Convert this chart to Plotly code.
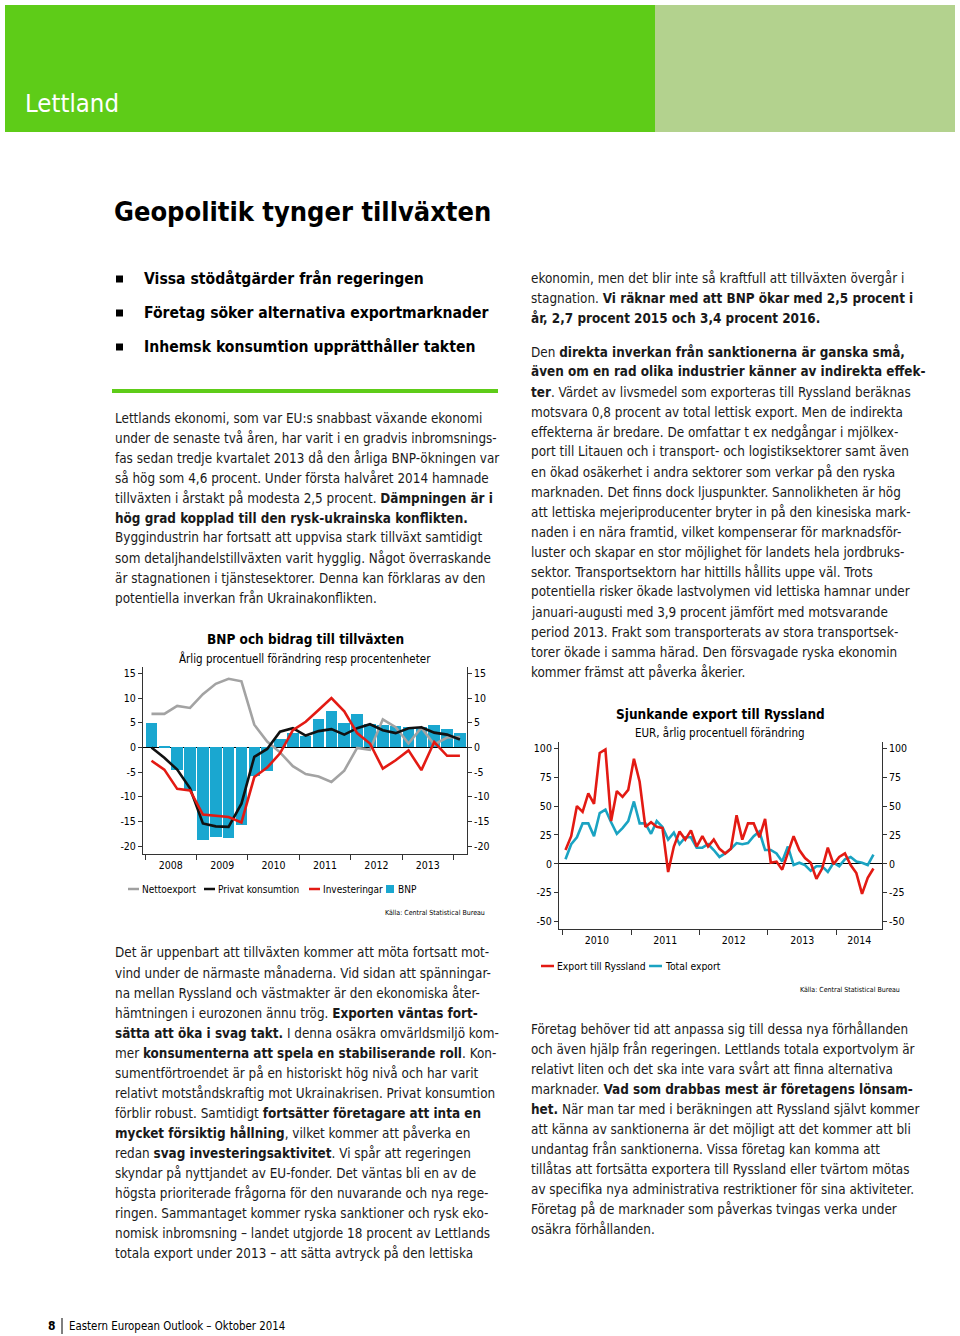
import plotly.graph_objects as go

W, H = 960, 1336
FONT = "Noto Sans Condensed, DejaVu Sans Condensed, sans-serif"
FONT_BODY = FONT
TXT = "#1a1a1a"
GREEN = "#5ecc18"
LIGHT_GREEN = "#b3d28e"

# ---------------- Chart 1 data: BNP och bidrag till tillväxten (quarterly) ----------------
quarters = [f"{y} K{q}" for y in range(2008, 2014) for q in range(1, 5)] + ["2014 K1"]
bnp = [4.9, 0.3, -4.5, -8.9, -18.7, -18.2, -18.4, -15.8, -5.7, -4.7, 1.8, 2.9, 2.3,
       5.7, 7.3, 5.0, 6.8, 4.7, 4.6, 4.4, 4.2, 4.1, 4.5, 3.7, 2.9]
nettoexport = [6.8, 6.8, 8.4, 8.0, 10.8, 12.9, 13.9, 13.4, 4.6, 1.2, -1.0, -3.8, -5.4,
               -5.9, -7.0, -4.7, -0.1, -0.5, 5.7, 4.1, 0.8, 4.0, 0.6, 2.0, 2.1]
privat_konsumtion = [0.0, -2.1, -4.5, -8.3, -15.4, -16.0, -16.1, -11.4, -1.9, -0.3, 3.2,
                     3.9, 2.4, 3.3, 3.7, 2.6, 3.9, 4.7, 3.5, 2.9, 3.9, 4.1, 3.0, 2.6, 1.6]
investeringar = [-2.7, -4.5, -8.4, -8.7, -13.6, -13.9, -14.1, -15.2, -6.0, -4.1, -1.2,
                 3.5, 5.2, 7.6, 10.0, 7.3, 2.9, 0.8, -4.3, -2.6, -0.6, -4.6, 1.1, -1.7, -1.7]
years1 = ["2008", "2009", "2010", "2011", "2012", "2013"]
yticks1 = [-20, -15, -10, -5, 0, 5, 10, 15]

# ---------------- Chart 2 data: Sjunkande export till Ryssland (monthly) ----------------
months = [f"{y}-{m:02d}" for y in range(2010, 2015) for m in range(1, 13)][:55]
export_ryssland = [12, 24, 50, 45, 61, 52, 96, 99, 37, 63, 58, 64, 91, 71, 32, 36, 32, 31,
                   -7, 15, 28, 21, 29, 15, 24, 15, 21, 13, 9, 13, 42, 21, 35, 35, 23, 39,
                   1, 2, -5, 9, 24, 12, 5, 1, -13, -4, 14, -0.3, 6, 9, -1, -8, -26, -12, -4]
total_export = [4, 17, 23, 35, 35, 24, 44, 47, 36, 26, 31, 37, 54, 35, 35, 26, 37, 32,
                21, 27, 17, 23, 23, 14, 14, 17, 12, 6, 9, 13, 18, 17, 18, 24, 28, 12,
                12, 9, 2, 15, -1, 1, -1, -6, -2, -2, -7, 1, -2, 4, 6, 2, 1, -1, 8]
years2 = ["2010", "2011", "2012", "2013", "2014"]
yticks2 = [-50, -25, 0, 25, 50, 75, 100]

# ---------------- Text ----------------
title = "Geopolitik tynger tillväxten"
bullets = ["Vissa stödåtgärder från regeringen",
           "Företag söker alternativa exportmarknader",
           "Inhemsk konsumtion upprätthåller takten"]
left_p1 = [
    "Lettlands ekonomi, som var EU:s snabbast växande ekonomi",
    "under de senaste två åren, har varit i en gradvis inbromsnings-",
    "fas sedan tredje kvartalet 2013 då den årliga BNP-ökningen var",
    "så hög som 4,6 procent. Under första halvåret 2014 hamnade",
    "tillväxten i årstakt på modesta 2,5 procent. <b>Dämpningen är i</b>",
    "<b>hög grad kopplad till den rysk-ukrainska konflikten.</b>",
    "Byggindustrin har fortsatt att uppvisa stark tillväxt samtidigt",
    "som detaljhandelstillväxten varit hygglig. Något överraskande",
    "är stagnationen i tjänstesektorer. Denna kan förklaras av den",
    "potentiella inverkan från Ukrainakonflikten.",
]
left_p2 = [
    "Det är uppenbart att tillväxten kommer att möta fortsatt mot-",
    "vind under de närmaste månaderna. Vid sidan att spänningar-",
    "na mellan Ryssland och västmakter är den ekonomiska åter-",
    "hämtningen i eurozonen ännu trög. <b>Exporten väntas fort-</b>",
    "<b>sätta att öka i svag takt.</b> I denna osäkra omvärldsmiljö kom-",
    "mer <b>konsumenterna att spela en stabiliserande roll</b>. Kon-",
    "sumentförtroendet är på en historiskt hög nivå och har varit",
    "relativt motståndskraftig mot Ukrainakrisen. Privat konsumtion",
    "förblir robust. Samtidigt <b>fortsätter företagare att inta en</b>",
    "<b>mycket försiktig hållning</b>, vilket kommer att påverka en",
    "redan <b>svag investeringsaktivitet</b>. Vi spår att regeringen",
    "skyndar på nyttjandet av EU-fonder. Det väntas bli en av de",
    "högsta prioriterade frågorna för den nuvarande och nya rege-",
    "ringen. Sammantaget kommer ryska sanktioner och rysk eko-",
    "nomisk inbromsning – landet utgjorde 18 procent av Lettlands",
    "totala export under 2013 – att sätta avtryck på den lettiska",
]
right_p1 = [
    "ekonomin, men det blir inte så kraftfull att tillväxten övergår i",
    "stagnation. <b>Vi räknar med att BNP ökar med 2,5 procent i</b>",
    "<b>år, 2,7 procent 2015 och 3,4 procent 2016.</b>",
]
right_p2 = [
    "Den <b>direkta inverkan från sanktionerna är ganska små,</b>",
    "<b>även om en rad olika industrier känner av indirekta effek-</b>",
    "<b>ter</b>. Värdet av livsmedel som exporteras till Ryssland beräknas",
    "motsvara 0,8 procent av total lettisk export. Men de indirekta",
    "effekterna är bredare. De omfattar t ex nedgångar i mjölkex-",
    "port till Litauen och i transport- och logistiksektorer samt även",
    "en ökad osäkerhet i andra sektorer som verkar på den ryska",
    "marknaden. Det finns dock ljuspunkter. Sannolikheten är hög",
    "att lettiska mejeriproducenter bryter in på den kinesiska mark-",
    "naden i en nära framtid, vilket kompenserar för marknadsför-",
    "luster och skapar en stor möjlighet för landets hela jordbruks-",
    "sektor. Transportsektorn har hittills hållits uppe väl. Trots",
    "potentiella risker ökade lastvolymen vid lettiska hamnar under",
    "januari-augusti med 3,9 procent jämfört med motsvarande",
    "period 2013. Frakt som transporterats av stora transportsek-",
    "torer ökade i samma härad. Den försvagade ryska ekonomin",
    "kommer främst att påverka åkerier.",
]
right_p3 = [
    "Företag behöver tid att anpassa sig till dessa nya förhållanden",
    "och även hjälp från regeringen. Lettlands totala exportvolym är",
    "relativt liten och det ska inte vara svårt att finna alternativa",
    "marknader. <b>Vad som drabbas mest är företagens lönsam-</b>",
    "<b>het.</b> När man tar med i beräkningen att Ryssland självt kommer",
    "att känna av sanktionerna är det möjligt att det kommer att bli",
    "undantag från sanktionerna. Vissa företag kan komma att",
    "tillåtas att fortsätta exportera till Ryssland eller tvärtom mötas",
    "av specifika nya administrativa restriktioner för sina aktiviteter.",
    "Företag på de marknader som påverkas tvingas verka under",
    "osäkra förhållanden.",
]


def PX(x):
    return x / W


def PY(y):
    return 1 - y / H


annotations = []
shapes = []


def txt(x, y, s, size, color=TXT, anchor="left", bold=False, family=FONT):
    if bold:
        s = f"<b>{s}</b>"
    annotations.append(dict(x=PX(x), y=PY(y), xref="paper", yref="paper", text=s,
                            showarrow=False, xanchor=anchor, yanchor="middle",
                            font=dict(family=family, size=size, color=color)))


def rect(x0, y0, x1, y1, color):
    shapes.append(dict(type="rect", xref="paper", yref="paper", x0=PX(x0), x1=PX(x1),
                       y0=PY(y1), y1=PY(y0), fillcolor=color, line=dict(width=0),
                       layer="below"))


def hline(x0, x1, y, color, width):
    shapes.append(dict(type="line", xref="paper", yref="paper", x0=PX(x0), x1=PX(x1),
                       y0=PY(y), y1=PY(y), line=dict(color=color, width=width)))


# Header
rect(5, 5, 655, 132, GREEN)
rect(655, 5, 955, 132, LIGHT_GREEN)
txt(23, 103, "Lettland", 25.5, color="white")

# Title & bullets
txt(112, 212, title, 27, color="#000", bold=True)
for i, b in enumerate(bullets):
    yy = 279 + 34 * i
    rect(116, yy - 3.5, 123, yy + 3.5, "#000")
    txt(142, yy, b, 15.6, color="#000", bold=True)
hline(112, 498, 391, GREEN, 4)

BODY = 13.4
for i, s in enumerate(left_p1):
    txt(113, 418 + 20 * i, s, BODY, family=FONT_BODY)
for i, s in enumerate(left_p2):
    txt(113, 953 + 20 * i, s, BODY, family=FONT_BODY)
for i, s in enumerate(right_p1):
    txt(529, 278 + 20 * i, s, BODY, family=FONT_BODY)
for i, s in enumerate(right_p2):
    txt(529, 352 + 20 * i, s, BODY, family=FONT_BODY)
for i, s in enumerate(right_p3):
    txt(529, 1029 + 20 * i, s, BODY, family=FONT_BODY)

# Footer
txt(46, 1326, "<b>8</b>", 12, color="#000")
shapes.append(dict(type="line", xref="paper", yref="paper", x0=PX(62), x1=PX(62),
                   y0=PY(1318), y1=PY(1334), line=dict(color="#000", width=1)))
txt(67, 1326, "Eastern European Outlook – Oktober 2014", 11.4, color="#000")

# ---------------- Chart 1 ----------------
txt(305, 639, "BNP och bidrag till tillväxten", 13.5, color="#000", anchor="center", bold=True)
txt(305, 658, "Årlig procentuell förändring resp procentenheter", 11.5, color="#000", anchor="center")

leg1 = [("line", "#a0a0a0", 128, "Nettoexport"), ("line", "#111", 204, "Privat konsumtion"),
        ("line", "#e31a13", 309, "Investeringar"), ("sq", "#1aa7d0", 386, "BNP")]
for kind, col, x0, lab in leg1:
    if kind == "line":
        hline(x0, x0 + 11, 889, col, 2.5)
        txt(x0 + 12, 889, lab, 10, color="#000")
    else:
        rect(x0, 885, x0 + 8, 893, col)
        txt(x0 + 10, 889, lab, 10, color="#000")
txt(487, 913, "Källa: Central Statistical Bureau", 7, color="#000", anchor="right")

# ---------------- Chart 2 ----------------
txt(720, 714, "Sjunkande export till Ryssland", 13.5, color="#000", anchor="center", bold=True)
txt(720, 733, "EUR, årlig procentuell förändring", 11.5, color="#000", anchor="center")
leg2 = [("#e31a13", 541, "Export till Ryssland"), ("#1aa3c2", 649, "Total export")]
for col, x0, lab in leg2:
    hline(x0, x0 + 13, 966, col, 2.5)
    txt(x0 + 14, 966, lab, 10.3, color="#000")
txt(902, 990, "Källa: Central Statistical Bureau", 7, color="#000", anchor="right")

fig = go.Figure()

x1 = list(range(len(quarters)))
fig.add_trace(go.Bar(x=x1, y=bnp, marker=dict(color="#1aa7d0", line=dict(width=0)),
                     width=0.9, name="BNP", xaxis="x", yaxis="y"))
fig.add_trace(go.Scatter(x=x1, y=nettoexport, mode="lines", line=dict(color="#a3a3a3", width=2.6),
                         name="Nettoexport", xaxis="x", yaxis="y2"))
fig.add_trace(go.Scatter(x=x1, y=privat_konsumtion, mode="lines", line=dict(color="#111111", width=2.6),
                         name="Privat konsumtion", xaxis="x", yaxis="y2"))
fig.add_trace(go.Scatter(x=x1, y=investeringar, mode="lines", line=dict(color="#e31a13", width=2.6),
                         name="Investeringar", xaxis="x", yaxis="y2"))

x2 = list(range(len(months)))
fig.add_trace(go.Scatter(x=x2, y=total_export, mode="lines", line=dict(color="#1aa3c2", width=2.6),
                         name="Total export", xaxis="x2", yaxis="y3"))
fig.add_trace(go.Scatter(x=x2, y=export_ryssland, mode="lines", line=dict(color="#e31a13", width=2.6),
                         name="Export till Ryssland", xaxis="x2", yaxis="y4"))

AX = "#333333"
tickfont = dict(family=FONT, size=10.5, color="#000")

yr1 = [-21.6, 16.3]
yr2 = [-56.6, 105.7]
ytext1 = [str(v) for v in yticks1]
ytext2 = [str(v) for v in yticks2]

ybase = dict(showgrid=False, showline=True, linecolor=AX, linewidth=1, ticks="outside",
             ticklen=4, tickcolor=AX, tickfont=tickfont, fixedrange=True, tickmode="array")

fig.update_layout(
    width=W, height=H, margin=dict(l=0, r=0, t=0, b=0),
    paper_bgcolor="white", plot_bgcolor="white", showlegend=False, bargap=0,
    xaxis=dict(domain=[PX(143), PX(467)], range=[-0.66, 24.55], anchor="y",
               showgrid=False, zeroline=False, showline=True, linecolor=AX,
               tickmode="array", tickvals=[1.5 + 4 * k for k in range(len(years1))],
               ticktext=years1, ticks="outside", ticklen=1, tickcolor="rgba(0,0,0,0)",
               tickfont=tickfont,
               minor=dict(tickmode="array", tickvals=[-0.5 + 4 * k for k in range(7)],
                          ticks="outside", ticklen=5, tickcolor=AX, showgrid=False)),
    yaxis=dict(domain=[PY(854), PY(667)], range=yr1, anchor="x", tickvals=yticks1, ticktext=ytext1,
               zeroline=True, zerolinecolor="#000", zerolinewidth=1.2, **ybase),
    yaxis2=dict(range=yr1, overlaying="y", side="right", anchor="x", tickvals=yticks1, ticktext=ytext1,
                zeroline=False, **ybase),
    xaxis2=dict(domain=[PX(559), PX(882)], range=[-1.14, 55.5], anchor="y3",
                showgrid=False, zeroline=False, showline=True, linecolor=AX,
                tickmode="array", tickvals=[5.5, 17.5, 29.5, 41.5, 51.5],
                ticktext=years2, ticks="outside", ticklen=1, tickcolor="rgba(0,0,0,0)",
                tickfont=tickfont,
                minor=dict(tickmode="array", tickvals=[-0.5 + 12 * k for k in range(5)],
                           ticks="outside", ticklen=5, tickcolor=AX, showgrid=False)),
    yaxis3=dict(domain=[PY(929.3), PY(741.7)], range=yr2, anchor="x2", tickvals=yticks2, ticktext=ytext2,
                zeroline=True, zerolinecolor="#000", zerolinewidth=1.2, **ybase),
    yaxis4=dict(range=yr2, overlaying="y3", side="right", anchor="x2", tickvals=yticks2, ticktext=ytext2,
                zeroline=False, **ybase),
    annotations=annotations, shapes=shapes,
)

fig.write_html("out.html", config={"displayModeBar": False},
               post_script="document.body.style.margin='0';")
